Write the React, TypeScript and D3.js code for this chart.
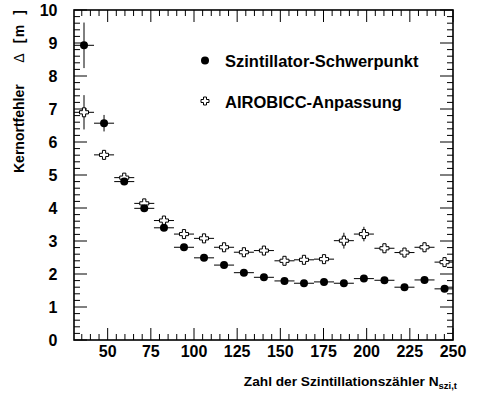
import React from "react";
import * as d3 from "d3";

const xCenters = [36.3, 47.9, 59.6, 71.2, 82.6, 94.2, 105.8, 117.4, 128.9, 140.5, 152.4, 163.7, 175.3, 186.8, 198.4, 210.3, 221.9, 233.5, 245.1];
const xHalfWidth = 5.8;
const schwerpunkt = [8.93, 6.57, 4.8, 3.99, 3.4, 2.81, 2.49, 2.27, 2.04, 1.9, 1.79, 1.72, 1.76, 1.72, 1.86, 1.81, 1.6, 1.82, 1.55];
const schwerpunktErr = [0.69, 0.25, 0.1, 0.08, 0.08, 0.07, 0.06, 0.06, 0.05, 0.05, 0.05, 0.05, 0.05, 0.05, 0.06, 0.06, 0.06, 0.07, 0.08];
const airobicc = [6.9, 5.61, 4.92, 4.14, 3.62, 3.21, 3.08, 2.81, 2.66, 2.71, 2.4, 2.43, 2.45, 3.01, 3.21, 2.78, 2.65, 2.81, 2.36];
const airobiccErr = [0.52, 0.15, 0.1, 0.1, 0.1, 0.1, 0.1, 0.1, 0.1, 0.1, 0.1, 0.1, 0.12, 0.24, 0.22, 0.12, 0.12, 0.14, 0.14];
const xTicks = [50, 75, 100, 125, 150, 175, 200, 225, 250];
const yTicks = [0, 1, 2, 3, 4, 5, 6, 7, 8, 9, 10];
const legendLabels = ["Szintillator-Schwerpunkt", "AIROBICC-Anpassung"];

const W = 477, H = 394;
const L = 74, R = 453, T = 10, B = 340;
const FONT = "'Liberation Sans', Arial, Helvetica, sans-serif";

const crossPath = (s: number, a: number) =>
  `M${-a},${-s}H${a}V${-a}H${s}V${a}H${a}V${s}H${-a}V${a}H${-s}V${-a}H${-a}Z`;

export default function App() {
  const x = d3.scaleLinear().domain([30.5, 250]).range([L, R]);
  const y = d3.scaleLinear().domain([0, 10]).range([B, T]);

  const xMinor = d3.range(35, 250.1, 5).filter((v) => v > 30.5);
  const yMinor = d3.range(0, 10.001, 0.2);

  const ticks: JSX.Element[] = [];
  xMinor.forEach((v, i) => {
    const major = xTicks.some((t) => Math.abs(t - v) < 1e-6);
    const len = major ? 12 : 6;
    const px = x(v);
    ticks.push(<line key={"xb" + i} x1={px} x2={px} y1={B} y2={B - len} stroke="#000" strokeWidth={1} />);
    ticks.push(<line key={"xt" + i} x1={px} x2={px} y1={T} y2={T + len} stroke="#000" strokeWidth={1} />);
  });
  yMinor.forEach((v, i) => {
    const major = Math.abs(v - Math.round(v)) < 1e-6;
    const len = major ? 13 : 6;
    const py = y(v);
    ticks.push(<line key={"yl" + i} x1={L} x2={L + len} y1={py} y2={py} stroke="#000" strokeWidth={1} />);
    ticks.push(<line key={"yr" + i} x1={R} x2={R - len} y1={py} y2={py} stroke="#000" strokeWidth={1} />);
  });

  const errBars = (vals: number[], errs: number[], key: string) =>
    vals.map((v, i) => (
      <g key={key + i} stroke="#000" strokeWidth={1}>
        <line x1={x(Math.max(30.5, xCenters[i] - xHalfWidth))} x2={x(Math.min(250, xCenters[i] + xHalfWidth))} y1={y(v)} y2={y(v)} />
        <line x1={x(xCenters[i])} x2={x(xCenters[i])} y1={y(v - errs[i])} y2={y(v + errs[i])} />
      </g>
    ));

  return (
    <svg width={W} height={H} style={{ position: "absolute", left: 0, top: 0, background: "#fff" }} fontFamily={FONT}>
      <rect x={0} y={0} width={W} height={H} fill="#fff" />
      {ticks}
      <rect x={L} y={T} width={R - L} height={B - T} fill="none" stroke="#000" strokeWidth={1.6} />
      {errBars(schwerpunkt, schwerpunktErr, "es")}
      {errBars(airobicc, airobiccErr, "ea")}
      {airobicc.map((v, i) => (
        <path key={"a" + i} d={crossPath(4.5, 1.6)} transform={`translate(${x(xCenters[i])},${y(v)})`} fill="#fff" stroke="#000" strokeWidth={1} />
      ))}
      {schwerpunkt.map((v, i) => (
        <circle key={"s" + i} cx={x(xCenters[i])} cy={y(v)} r={4} fill="#000" />
      ))}
      {xTicks.map((t) => (
        <text key={"xl" + t} x={x(t)} y={357} textAnchor="middle" fontSize={16} fontWeight="bold">{t}</text>
      ))}
      {yTicks.map((t) => (
        <text key={"yl" + t} x={57.5} y={y(t) + 6} textAnchor="end" fontSize={16} fontWeight="bold">{t}</text>
      ))}
      <text x={R + 4} y={386} textAnchor="end" fontSize={13.7} fontWeight="bold">
        Zahl der Szintillationszähler N<tspan fontSize={9.5} dy={3}>szi,t</tspan>
      </text>
      <g transform="translate(24,0) rotate(-90)" fontSize={14} fontWeight="bold">
        <text x={-173}>Kernortfehler</text>
        <text x={-58} textAnchor="middle" fontWeight="normal">Δ</text>
        <text x={-41} textAnchor="middle">[</text>
        <text x={-31} textAnchor="middle">m</text>
        <text x={-12.5} textAnchor="middle">]</text>
      </g>
      <circle cx={205} cy={60.5} r={4} fill="#000" />
      <text x={225} y={66.5} fontSize={16.5} fontWeight="bold">{legendLabels[0]}</text>
      <path d={crossPath(4, 1.5)} transform="translate(205,101)" fill="#fff" stroke="#000" strokeWidth={1} />
      <text x={225} y={107.5} fontSize={16.5} fontWeight="bold">{legendLabels[1]}</text>
    </svg>
  );
}
